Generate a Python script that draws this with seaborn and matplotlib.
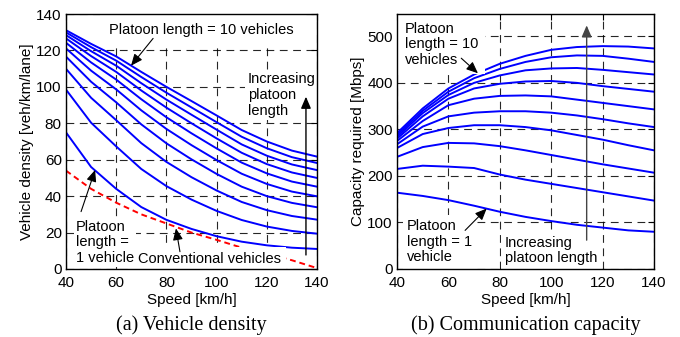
import numpy as np
import pandas as pd
import matplotlib
matplotlib.use("Agg")
import matplotlib.pyplot as plt
import seaborn as sns

# ---------------- data ----------------
speed = [40, 50, 60, 70, 80, 90, 100, 110, 120, 130, 140]
platoon_lengths = [1, 2, 3, 4, 5, 6, 7, 8, 9, 10]

density_n1 = [75, 56, 44, 34, 27, 22, 18, 15, 13, 11.7, 11]
density_n2 = [98.5, 80.3, 67.3, 54.9, 45.5, 38.1, 31.9, 26.9, 23.3, 20.9, 19.4]
density_n3 = [109.9, 94, 81.7, 69.1, 58.8, 50.4, 43.1, 36.8, 32.3, 29.1, 27.1]
density_n4 = [116.6, 102.8, 91.5, 79.4, 69, 60.2, 52.2, 45.2, 40, 36.3, 33.9]
density_n5 = [121.1, 108.9, 98.6, 87.1, 76.9, 68, 59.8, 52.3, 46.7, 42.5, 39.9]
density_n6 = [124.2, 113.4, 104, 93.2, 83.3, 74.5, 66.2, 58.4, 52.5, 48, 45.2]
density_n7 = [126.6, 116.9, 108.2, 98, 88.6, 80, 71.7, 63.8, 57.6, 53, 50]
density_n8 = [128.4, 119.6, 111.6, 102, 93, 84.7, 76.5, 68.4, 62.2, 57.4, 54.3]
density_n9 = [129.9, 121.8, 114.4, 105.4, 96.8, 88.7, 80.6, 72.6, 66.3, 61.4, 58.2]
density_n10 = [131.1, 123.6, 116.7, 108.2, 100, 92.2, 84.3, 76.3, 70, 65, 61.7]
density_conventional = [54, 44, 36.4, 30, 25, 20, 16, 11.7, 8.5, 4.8, 0.5]

capacity_n1 = [164, 157, 148, 136, 123, 112, 103, 95, 89, 83, 80]
capacity_n2 = [215, 222, 220, 217, 203, 192, 183, 174, 165, 156, 147]
capacity_n3 = [241, 262, 271, 270, 264, 255, 245, 235, 225, 216, 207]
capacity_n4 = [260, 290, 303, 309, 309, 305, 298, 288, 278, 266, 255]
capacity_n5 = [268, 306, 328, 336, 339, 339, 336, 330, 322, 313, 305]
capacity_n6 = [275, 318, 352, 366, 372, 373, 371, 364, 357, 350, 343]
capacity_n7 = [280, 328, 366, 388, 398, 403, 404, 400, 393, 387, 381]
capacity_n8 = [284, 335, 374, 400, 416, 427, 431, 432, 428, 423, 418]
capacity_n9 = [288, 340, 381, 410, 430, 445, 455, 459, 458, 452, 445]
capacity_n10 = [292, 345, 388, 418, 441, 458, 471, 477, 479, 478, 474]

x_ticks = [40, 60, 80, 100, 120, 140]
density_ticks = [0, 20, 40, 60, 80, 100, 120, 140]
capacity_ticks = [0, 100, 200, 300, 400, 500]

density_series = [density_n1, density_n2, density_n3, density_n4, density_n5,
                  density_n6, density_n7, density_n8, density_n9, density_n10]
capacity_series = [capacity_n1, capacity_n2, capacity_n3, capacity_n4, capacity_n5,
                   capacity_n6, capacity_n7, capacity_n8, capacity_n9, capacity_n10]

rows = []
for n, d, c in zip(platoon_lengths, density_series, capacity_series):
    for s, dv, cv in zip(speed, d, c):
        rows.append({"speed": s, "N": n, "density": dv, "capacity": cv})
df = pd.DataFrame(rows)
df_conv = pd.DataFrame({"speed": speed, "density": density_conventional})

# ---------------- style ----------------
sns.set_theme(style="white")
plt.rcParams["font.family"] = ["Liberation Sans", "DejaVu Sans"]
plt.rcParams["axes.edgecolor"] = "black"
plt.rcParams["axes.linewidth"] = 1.0

fig = plt.figure(figsize=(6.8, 3.37), dpi=100)
axL = fig.add_axes([66 / 680, 68 / 337, 251 / 680, 255 / 337])
axR = fig.add_axes([397 / 680, 68 / 337, 257 / 680, 255 / 337])

blue_pal = ["#0000ff"] * len(platoon_lengths)
grid_kw = dict(color="black", linestyle=(0, (7, 5)), linewidth=0.8, alpha=0.85)
fs_tick = 11
fs_ann = 10.5


def style_axes(ax, ylim, yticks):
    ax.set_xlim(40, 140)
    ax.set_ylim(*ylim)
    ax.set_xticks(x_ticks)
    ax.set_yticks(yticks)
    ax.set_axisbelow(True)
    ax.grid(True, **grid_kw)
    ax.tick_params(axis="both", which="both", direction="in", length=4, width=0.8,
                   top=True, right=True, labelsize=fs_tick, colors="black")
    ax.tick_params(axis="x", pad=5)
    ax.tick_params(axis="y", pad=3)
    for sp in ax.spines.values():
        sp.set_visible(True)
        sp.set_color("black")
        sp.set_linewidth(1.0)
        sp.set_zorder(10)


def label(ax, x, y, s, ha="left", va="center", pad=2.0):
    ax.text(x, y, s, ha=ha, va=va, fontsize=fs_ann, color="black", zorder=6,
            linespacing=1.15,
            bbox=dict(facecolor="white", edgecolor="none", pad=pad))


def arrow(ax, tail, tip, color="black", lw=0.8):
    ax.annotate("", xy=tip, xytext=tail, zorder=7,
                arrowprops=dict(arrowstyle="-|>,head_length=0.7,head_width=0.3",
                                color=color, lw=lw, shrinkA=0, shrinkB=0,
                                mutation_scale=10))


# ---------------- (a) vehicle density ----------------
sns.lineplot(data=df, x="speed", y="density", hue="N", palette=blue_pal,
             legend=False, ax=axL, linewidth=1.4, estimator=None, zorder=3)
sns.lineplot(data=df_conv, x="speed", y="density", ax=axL, color="red",
             linewidth=1.4, linestyle=(0, (3, 2)), zorder=3)
style_axes(axL, (0, 140), density_ticks)
axL.set_xlabel("Speed [km/h]", fontsize=fs_tick, labelpad=2, color="black")
axL.set_ylabel("Vehicle density [veh/km/lane]", fontsize=fs_tick, labelpad=2, color="black")

label(axL, 94, 131.2, "Platoon length = 10 vehicles", ha="center", pad=6.5)
arrow(axL, (74.7, 126.6), (65.9, 111.6))
label(axL, 112.5, 95.5, "Increasing\nplatoon\nlength", pad=2)
arrow(axL, (135.6, 7.7), (135.6, 94.6), lw=1.0)
label(axL, 68.8, 5.5, "Conventional vehicles", pad=3.5)
arrow(axL, (85.4, 9.5), (83.8, 22.3))
label(axL, 44.0, 14.7, "Platoon\nlength =\n1 vehicle", pad=1.5)
arrow(axL, (46.0, 31.5), (51.6, 54.4))

# ---------------- (b) communication capacity ----------------
sns.lineplot(data=df, x="speed", y="capacity", hue="N", palette=blue_pal,
             legend=False, ax=axR, linewidth=1.4, estimator=None, zorder=3)
style_axes(axR, (0, 548), capacity_ticks)
axR.set_xlabel("Speed [km/h]", fontsize=fs_tick, labelpad=2, color="black")
axR.set_ylabel("Capacity required [Mbps]", fontsize=fs_tick, labelpad=2, color="black")

label(axR, 43.1, 482.8, "Platoon\nlength = 10\nvehicles", pad=5)
arrow(axR, (65.0, 453.0), (71.5, 420.6))
label(axR, 43.8, 58.6, "Platoon\nlength = 1\nvehicle", pad=3)
arrow(axR, (66.5, 83.0), (74.9, 130.0))
label(axR, 82.0, 40.0, "Increasing\nplatoon length", pad=3)
arrow(axR, (113.8, 62.0), (113.8, 523.6), color="#444444", lw=1.0)

# ---------------- captions ----------------
fig.text(191.5 / 680, 1 - 325 / 337, "(a) Vehicle density", ha="center", va="center",
         fontsize=14.5, family=["Liberation Serif", "DejaVu Serif"], color="black")
fig.text(525.5 / 680, 1 - 325 / 337, "(b) Communication capacity", ha="center",
         va="center", fontsize=14.5, family=["Liberation Serif", "DejaVu Serif"],
         color="black")

fig.savefig("out.png", dpi=100)
